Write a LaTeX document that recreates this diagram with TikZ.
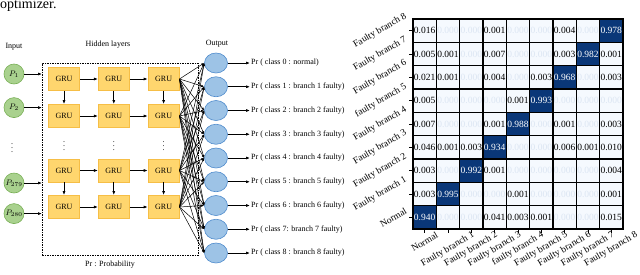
\documentclass[tikz,border=0pt]{standalone}
\usepackage{fontspec}
\setmainfont{Liberation Serif}
\usetikzlibrary{arrows.meta,positioning,shapes.geometric,calc}
\definecolor{grufill}{RGB}{255,214,110}
\definecolor{grudraw}{RGB}{246,190,70}
\definecolor{infill}{RGB}{169,209,142}
\definecolor{indraw}{RGB}{120,175,85}
\definecolor{outfill}{RGB}{157,195,230}
\definecolor{outdraw}{RGB}{80,140,205}
\definecolor{navy}{RGB}{10,55,120}
\definecolor{pale}{RGB}{245,249,254}
\definecolor{faint}{RGB}{220,230,243}

\begin{document}
\begin{tikzpicture}[x=1pt, y=-1pt,
  gru/.style={draw=grudraw, fill=grufill, line width=0.8pt, minimum width=31pt, minimum height=23pt, inner sep=0pt, font=\fontsize{8}{9}\selectfont},
  inp/.style={circle, draw=indraw, fill=infill, line width=0.6pt, minimum size=20pt, inner sep=0pt, font=\fontsize{8}{9}\selectfont},
  outp/.style={ellipse, draw=outdraw, fill=outfill, line width=0.6pt, minimum width=23pt, minimum height=20pt, inner sep=0pt},
  lbl/.style={font=\fontsize{8}{9}\selectfont, inner sep=1pt},
  arrow/.style={-{Latex[length=4pt,width=3pt]}, line width=0.7pt},
  link/.style={-{Latex[length=3pt,width=2.4pt]}, line width=0.5pt},
  cell/.style={draw, line width=1.1pt, minimum size=23.33pt, inner sep=0pt, fill=pale, font=\fontsize{9.5}{10}\selectfont},
  axlbl/.style={rotate=30, anchor=east, inner sep=0pt, font=\fontsize{9.5}{10}\selectfont}
]
\useasboundingbox (0,0) rectangle (640,274);
\node[anchor=base west, inner sep=0pt, font=\fontsize{14}{16}\selectfont] (cap) at (0,8.5) {optimizer.};

% network
\node[lbl] (intitle) at (14,47) {Input};
\node[lbl] (hidtitle) at (108,45) {Hidden layers};
\node[lbl] (outtitle) at (217,44) {Output};
\node[lbl] (prnote) at (110,265) {Pr : Probability};

\node[draw, dash pattern=on 1.5pt off 1pt, line width=0.9pt, minimum width=156pt, minimum height=192pt, anchor=north west, inner sep=0pt] (hidden) at (42,63) {};

\node[inp] (p1) at (14,74) {$P_{1}$};
\node[inp, below=13pt of p1] (p2) {$P_{2}$};
\node[inp] (p279) at (14,183) {$P_{279}$};
\node[inp, below=10pt of p279] (p280) {$P_{280}$};
\node[lbl] (pdots) at (12,145) {$\vdots$};
\foreach \p in {p1,p2,p279,p280}
  \draw[arrow] (\p) -- (\p -| hidden.west);

\foreach \r/\y in {1/79,2/116,3/170.5,4/207} {
  \node[gru] (g\r1) at (64,\y) {GRU};
  \node[gru, right=18pt of g\r1] (g\r2) {GRU};
  \node[gru, right=18pt of g\r2] (g\r3) {GRU};
  \draw[arrow] (g\r1) -- (g\r2);
  \draw[arrow] (g\r2) -- (g\r3);
}
\foreach \c in {1,2,3} {
  \draw[arrow] (g1\c) -- (g2\c);
  \draw[arrow] (g3\c) -- (g4\c);
  \node[lbl] (gdots\c) at ($(g2\c)!0.5!(g3\c)$) {$\vdots$};
}

\foreach \k in {0,...,8}
  \node[outp] (o\k) at (216,{63+23.75*\k}) {};
\foreach \r in {1,...,4}
  \foreach \k in {0,...,8}
    \draw[link] (g\r3.east) -- (o\k.west);

\foreach \k/\txt in {0/{Pr ( class 0 : normal)}, 1/{Pr ( class 1 : branch 1 faulty)},
    2/{Pr ( class 2 : branch 2 faulty)}, 3/{Pr ( class 3 : branch 3 faulty)},
    4/{Pr ( class 4 : branch 4 faulty)}, 5/{Pr ( class 5 : branch 5 faulty)},
    6/{Pr ( class 6 : branch 6 faulty)}, 7/{Pr ( class 7: branch 7 faulty)},
    8/{Pr ( class 8 : branch 8 faulty)}} {
  \node[lbl, anchor=west] (t\k) at (250,{63+23.75*\k}) {\txt};
  \draw[arrow] (o\k) -- (t\k);
}

% confusion matrix
\foreach \vals [count=\r from 0] in {
  {0.016,0.000,0.000,0.001,0.000,0.000,0.004,0.000,0.978},
  {0.005,0.001,0.000,0.007,0.000,0.000,0.003,0.982,0.001},
  {0.021,0.001,0.000,0.004,0.000,0.003,0.968,0.000,0.003},
  {0.005,0.000,0.000,0.000,0.001,0.993,0.000,0.000,0.000},
  {0.007,0.000,0.000,0.001,0.988,0.000,0.001,0.000,0.003},
  {0.046,0.001,0.003,0.934,0.000,0.000,0.006,0.001,0.010},
  {0.003,0.000,0.992,0.001,0.000,0.000,0.000,0.000,0.004},
  {0.003,0.995,0.000,0.000,0.001,0.000,0.000,0.000,0.001},
  {0.940,0.000,0.000,0.041,0.003,0.001,0.000,0.000,0.015}} {
  \foreach \v [count=\c from 0] in \vals {
    \pgfmathtruncatemacro\dg{(\r+\c==8)?1:0}
    \pgfmathsetmacro\cx{413+23.33*(\c+0.5)}
    \pgfmathsetmacro\cy{19+23.33*(\r+0.5)}
    \ifnum\dg=1
      \node[cell, fill=navy, text=white] (m\r\c) at (\cx,\cy) {\v};
    \else\ifdim\v pt<0.0005pt
      \node[cell, text=faint] (m\r\c) at (\cx,\cy) {\v};
    \else
      \node[cell] (m\r\c) at (\cx,\cy) {\v};
    \fi\fi
  }
}
\foreach \i in {0,...,8} {
  \draw[line width=0.5pt] (m\i0.west) -- ++(-3.5,0);
  \draw[line width=0.5pt] (m8\i.south) -- ++(0,3.5);
}

\foreach \lab/\off [count=\r from 0] in {Faulty branch 8/14.9, Faulty branch 7/14.9,
    Faulty branch 6/14.9, faulty branch 5/14.4, Faulty branch 4/14.9, Faulty branch 3/14.9,
    Faulty branch 2/14.9, Faulty branch 1/14.9, Normal/7.3}
  \node[axlbl] (rl\r) at (406,{19+23.33*(\r+0.5)-\off}) {\lab};
\foreach \lab/\off [count=\c from 0] in {Normal/12.6, Faulty branch 1/25.8,
    Faulty branch 2/25.8, Faulty branch 3/25.8, faulty branch 4/24.9, Faulty branch 5/25.8,
    Faulty branch 6/25.8, Faulty branch 7/25.8, Faulty branch 8/25.8}
  \node[axlbl] (cl\c) at ({413+23.33*(\c+0.5)+\off},234.5) {\lab};
\end{tikzpicture}
\end{document}
